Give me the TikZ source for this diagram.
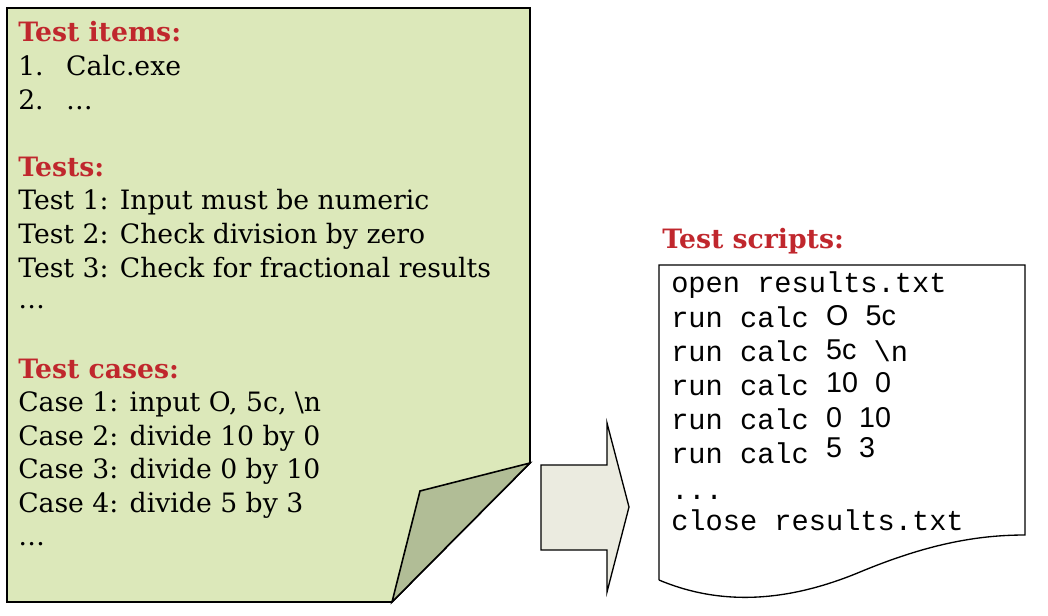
\documentclass[tikz,border=0pt]{standalone}
\usepackage{fontspec}
\setmainfont{DejaVu Serif}
\newfontfamily\monof{Liberation Mono}
\newfontfamily\numf{Liberation Sans}
\definecolor{sheetgreen}{HTML}{DCE8BA}
\definecolor{flapgreen}{HTML}{B1BD96}
\definecolor{arrowgrey}{HTML}{EBEBE0}
\definecolor{headred}{HTML}{C0272D}
\begin{document}
\begin{tikzpicture}[x=0.75pt,y=-0.75pt,
  txt/.style={anchor=base west,inner sep=0pt,font=\fontsize{20}{24}\selectfont},
  head/.style={txt,text=headred,font=\fontsize{20}{24}\selectfont\bfseries},
  code/.style={anchor=base west,inner sep=0pt,font=\fontsize{21.5}{26}\monof},
  outline/.style={draw=black,line width=1.2pt,line join=miter}]
\useasboundingbox (0,0) rectangle (1048,616);
% sheet with folded corner
\path[outline,fill=sheetgreen] (7,8) -- (530,8) -- (530,463) -- (392,602) -- (7,602) -- cycle;
\path[outline,fill=flapgreen] (530,463) -- (420,491) -- (392,602) -- cycle;
% block arrow
\path[outline,fill=arrowgrey,line width=1pt] (541,465) -- (607,465) -- (607,423) -- (629,507) -- (607,592) -- (607,550) -- (541,550) -- cycle;
% script document
\path[outline,fill=white,line width=1pt] (659,580) -- (659,265) -- (1025,265) -- (1025,535)
  .. controls (975,535) and (925,545) .. (860,572)
  .. controls (800,597) and (730,610) .. (659,580);
% left texts
\node[head] (h1) at (18,42) {Test items:};
\node[txt] (i1) at (18,76) {\makebox[36pt][l]{1.}Calc.exe};
\node[txt] (i2) at (18,109.5) {\makebox[36pt][l]{2.}\dots};
\node[head] (h2) at (18,176.5) {Tests:};
\node[txt] (t1) at (18,210) {Test 1: Input must be numeric};
\node[txt] (t2) at (18,243.5) {Test 2: Check division by zero};
\node[txt] (t3) at (18,277) {Test 3: Check for fractional results};
\node[txt] (t4) at (18,308) {\dots};
\node[head] (h3) at (18,378) {Test cases:};
\node[txt] (c1) at (18,411.5) {Case 1: input O, 5c, \textbackslash n};
\node[txt] (c2) at (18,445) {Case 2: divide 10 by 0};
\node[txt] (c3) at (18,478.5) {Case 3: divide 0 by 10};
\node[txt] (c4) at (18,512) {Case 4: divide 5 by 3};
\node[txt] (c5) at (18,545) {\dots};
% right texts
\node[head] (h4) at (662,249) {Test scripts:};
\node[code] (s1) at (671,293) {open results.txt};
\node[code] (s2) at (671,327) {run calc {\numf\raisebox{1pt}{O}} {\numf\raisebox{1pt}{5c}}};
\node[code] (s3) at (671,361) {run calc {\numf\raisebox{1pt}{5c}} \textbackslash n};
\node[code] (s4) at (671,395) {run calc {\numf\raisebox{2pt}{10}} {\numf\raisebox{2pt}{0}}};
\node[code] (s5) at (671,429) {run calc {\numf\raisebox{1.5pt}{0}} {\numf\raisebox{1.5pt}{10}}};
\node[code] (s6) at (671,463) {run calc {\numf\raisebox{4pt}{5}} {\numf\raisebox{4pt}{3}}};
\node[code] (s7) at (671,499) {...};
\node[code] (s8) at (671,530) {close results.txt};
\end{tikzpicture}
\end{document}
